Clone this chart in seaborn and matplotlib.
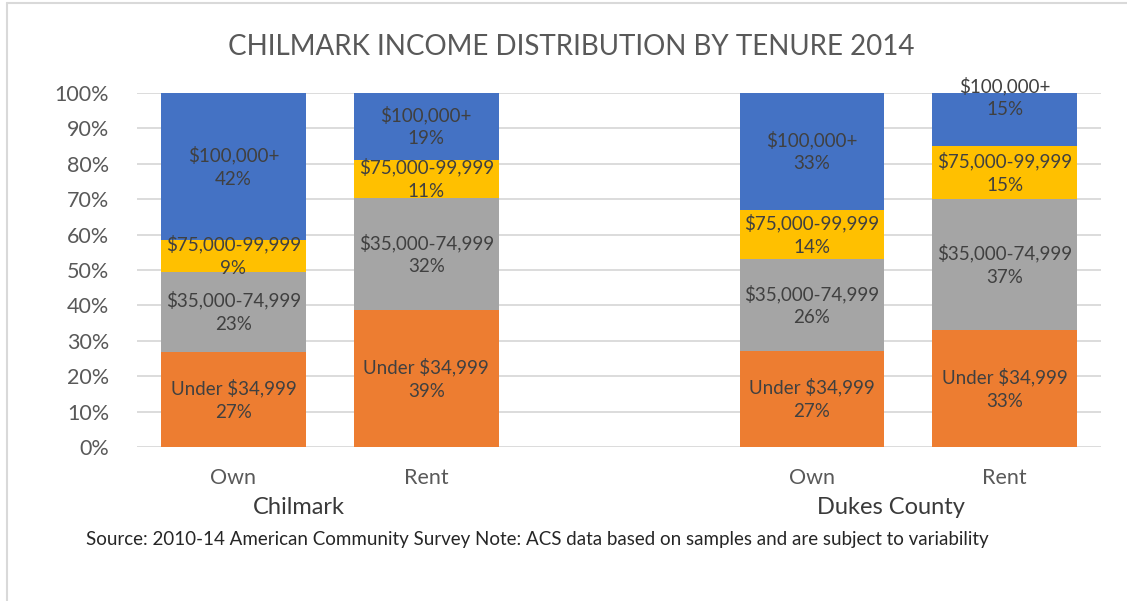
import numpy as np
import pandas as pd
import matplotlib.pyplot as plt
import seaborn as sns
from matplotlib.lines import Line2D

# values (percent of households)
places = ["Chilmark", "Chilmark", "Dukes County", "Dukes County"]
tenure = ["Own", "Rent", "Own", "Rent"]
brackets = ["Under $34,999", "$35,000-74,999", "$75,000-99,999", "$100,000+"]
under_35k = [27, 39, 27, 33]
k35_75 = [23, 32, 26, 37]
k75_100 = [9, 11, 14, 15]
over_100k = [42, 19, 33, 15]
colors = ["#ED7D31", "#A5A5A5", "#FFC000", "#4472C4"]

sns.set_theme(style="white")
plt.rcParams["font.family"] = ["Lato", "DejaVu Sans"]

vals = np.array([under_35k, k35_75, k75_100, over_100k], dtype=float)
pct = vals / vals.sum(axis=0) * 100  # 100% stacked
cum = pct.cumsum(axis=0)

bar_ids = [f"{p}|{t}" for p, t in zip(places, tenure)]
order = bar_ids[:2] + ["gap"] + bar_ids[2:]

fig = plt.figure(figsize=(11.27, 6.01), dpi=100)
ax = fig.add_axes([137 / 1127, 1 - 447 / 601, (1101 - 137) / 1127, (447 - 93) / 601])

# draw tallest cumulative first, smaller ones on top
for i in range(len(brackets) - 1, -1, -1):
    df = pd.DataFrame({"bar": bar_ids, "top": cum[i]})
    sns.barplot(data=df, x="bar", y="top", order=order, color=colors[i],
                saturation=1, width=0.75, ax=ax, zorder=2, linewidth=0)

pos = {b: order.index(b) for b in bar_ids}
for j, b in enumerate(bar_ids):
    for i, name in enumerate(brackets):
        lo = cum[i - 1][j] if i > 0 else 0
        mid = (lo + cum[i][j]) / 2
        nudge = 16 if (j == 3 and i == 3) else 0  # Excel pushed this one up
        ax.annotate(f"{name}\n{vals[i][j]:.0f}%", (pos[b], mid),
                    xytext=(0, nudge), textcoords="offset points",
                    ha="center", va="center", fontsize=13.5, color="#404040",
                    linespacing=1.45, zorder=3)

ax.set_xlim(-0.5, 4.5)
ax.set_ylim(0, 100)
ax.set_yticks(range(0, 101, 10))
ax.set_yticklabels([f"{t}%" for t in range(0, 101, 10)], fontsize=15.5, color="#595959")
ax.tick_params(axis="y", length=0, pad=20)
ax.set_xticks([pos[b] for b in bar_ids])
ax.set_xticklabels(tenure, fontsize=15.5, color="#595959")
ax.tick_params(axis="x", length=0, pad=15)
ax.set_xlabel("")
ax.set_ylabel("")
ax.yaxis.grid(True, color="#D9D9D9", lw=1.3, zorder=0)
ax.set_axisbelow(True)
for s in ax.spines.values():
    s.set_visible(False)

# group labels under the tenure labels
for g, xg in [("Chilmark", 0.34), ("Dukes County", 3.41)]:
    ax.text(xg, -0.171, g, transform=ax.get_xaxis_transform(), ha="center",
            va="center", fontsize=17, color="#3A3A3A")

fig.text(571 / 1127, 1 - 47 / 601, "CHILMARK INCOME DISTRIBUTION BY TENURE 2014",
         ha="center", va="center", fontsize=20, color="#595959")
fig.text(86 / 1127, 1 - 540 / 601,
         "Source: 2010-14 American Community Survey Note: ACS data based on samples and are subject to variability",
         ha="left", va="center", fontsize=13.5, color="#262626")

# light chart frame
fig.add_artist(Line2D([7 / 1127, 7 / 1127], [0, 1 - 3 / 601], color="#D9D9D9", lw=1.5))
fig.add_artist(Line2D([7 / 1127, 1], [1 - 3 / 601, 1 - 3 / 601], color="#D9D9D9", lw=1.5))

fig.savefig("out.png", dpi=100)
